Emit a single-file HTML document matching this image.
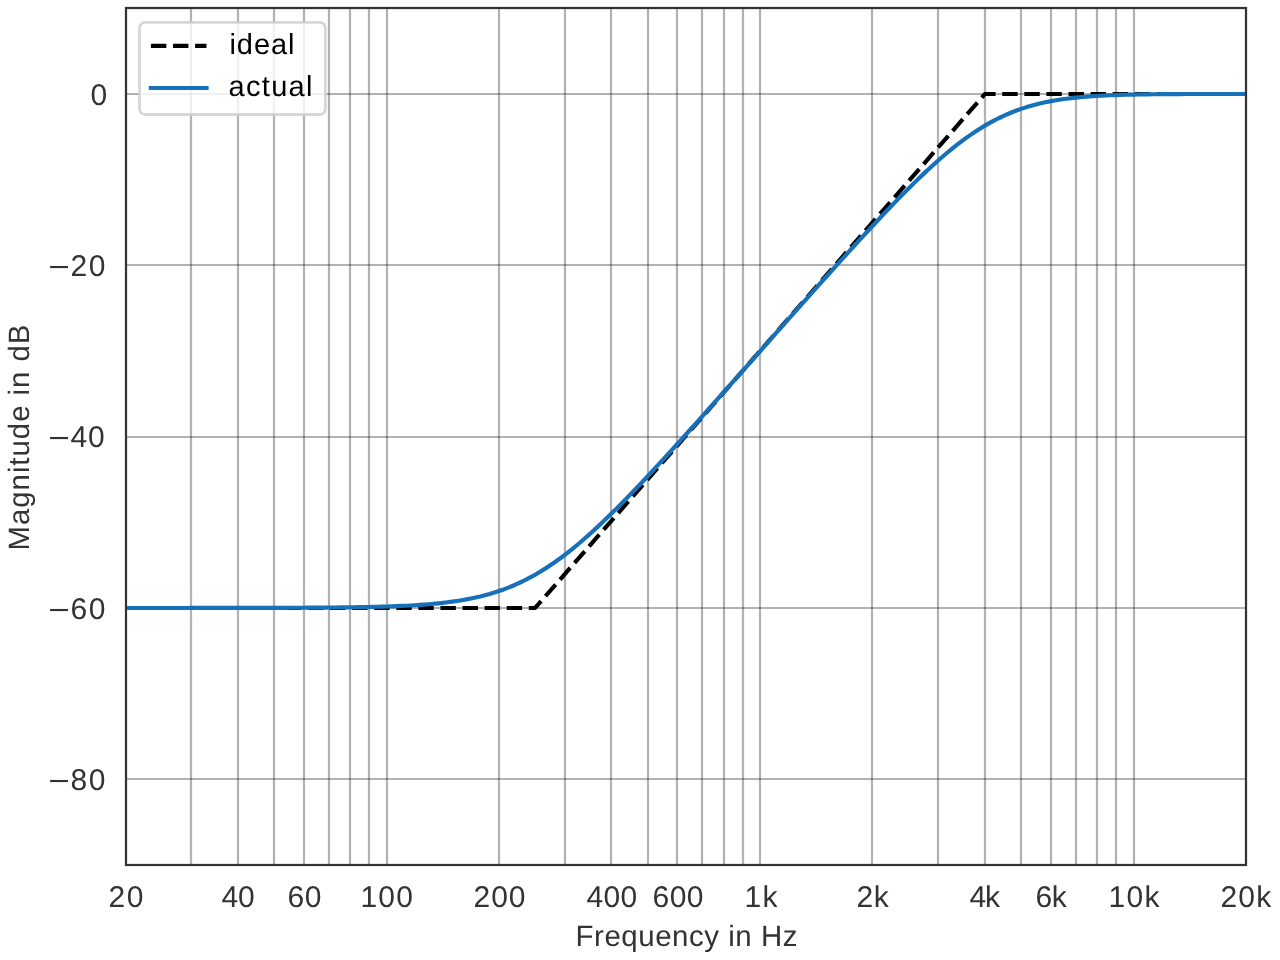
<!DOCTYPE html>
<html lang="en">
<head>
<meta charset="utf-8">
<title>Magnitude response: ideal vs actual</title>
<style>
html,body{margin:0;padding:0;background:#fff;}
body{width:1280px;height:960px;overflow:hidden;}
svg{display:block;}
text{font-family:"Liberation Sans",sans-serif;text-rendering:geometricPrecision;}
</style>
</head>
<body>
<svg width="1280" height="960" viewBox="0 0 1280 960" style="will-change:transform">
<rect x="0" y="0" width="1280" height="960" fill="#ffffff"/>
<g stroke="#000000" stroke-opacity="0.3" stroke-width="2.222" fill="none">
<line x1="191" y1="8" x2="191" y2="865"/>
<line x1="238" y1="8" x2="238" y2="865"/>
<line x1="274" y1="8" x2="274" y2="865"/>
<line x1="304" y1="8" x2="304" y2="865"/>
<line x1="329" y1="8" x2="329" y2="865"/>
<line x1="350" y1="8" x2="350" y2="865"/>
<line x1="369" y1="8" x2="369" y2="865"/>
<line x1="387" y1="8" x2="387" y2="865"/>
<line x1="499" y1="8" x2="499" y2="865"/>
<line x1="565" y1="8" x2="565" y2="865"/>
<line x1="611" y1="8" x2="611" y2="865"/>
<line x1="648" y1="8" x2="648" y2="865"/>
<line x1="677" y1="8" x2="677" y2="865"/>
<line x1="702" y1="8" x2="702" y2="865"/>
<line x1="724" y1="8" x2="724" y2="865"/>
<line x1="743" y1="8" x2="743" y2="865"/>
<line x1="760" y1="8" x2="760" y2="865"/>
<line x1="872" y1="8" x2="872" y2="865"/>
<line x1="938" y1="8" x2="938" y2="865"/>
<line x1="985" y1="8" x2="985" y2="865"/>
<line x1="1021" y1="8" x2="1021" y2="865"/>
<line x1="1051" y1="8" x2="1051" y2="865"/>
<line x1="1076" y1="8" x2="1076" y2="865"/>
<line x1="1097" y1="8" x2="1097" y2="865"/>
<line x1="1116" y1="8" x2="1116" y2="865"/>
<line x1="1134" y1="8" x2="1134" y2="865"/>
<line x1="126" y1="94" x2="1246" y2="94"/>
<line x1="126" y1="265" x2="1246" y2="265"/>
<line x1="126" y1="437" x2="1246" y2="437"/>
<line x1="126" y1="608" x2="1246" y2="608"/>
<line x1="126" y1="779" x2="1246" y2="779"/>
</g>
<clipPath id="ax"><rect x="126" y="8" width="1120" height="857"/></clipPath>
<g clip-path="url(#ax)" fill="none" stroke-width="4.167" stroke-linejoin="round">
<path d="M125.42 607.99 L535.15 607.99 L984.93 93.97 L1246.02 93.97" stroke="#000000" stroke-dasharray="15.417 6.667" stroke-dashoffset="16.23"/>
<path d="M119.42 607.98 L125.42 607.98 L130.09 607.98 L134.76 607.97 L139.43 607.97 L144.1 607.97 L148.77 607.97 L153.44 607.97 L158.1 607.97 L162.77 607.97 L167.44 607.96 L172.11 607.96 L176.78 607.96 L181.45 607.96 L186.12 607.96 L190.79 607.95 L195.46 607.95 L200.13 607.95 L204.8 607.94 L209.47 607.94 L214.13 607.94 L218.8 607.93 L223.47 607.93 L228.14 607.92 L232.81 607.92 L237.48 607.91 L242.15 607.9 L246.82 607.9 L251.49 607.89 L256.16 607.88 L260.83 607.87 L265.5 607.86 L270.16 607.85 L274.83 607.84 L279.5 607.82 L284.17 607.81 L288.84 607.79 L293.51 607.77 L298.18 607.75 L302.85 607.73 L307.52 607.7 L312.19 607.68 L316.86 607.65 L321.52 607.61 L326.19 607.58 L330.86 607.53 L335.53 607.49 L340.2 607.44 L344.87 607.38 L349.54 607.32 L354.21 607.25 L358.88 607.17 L363.55 607.09 L368.22 606.99 L372.89 606.88 L377.56 606.77 L382.22 606.64 L386.89 606.49 L391.56 606.33 L396.23 606.15 L400.9 605.95 L405.57 605.73 L410.24 605.49 L414.91 605.21 L419.58 604.91 L424.25 604.58 L428.92 604.21 L433.59 603.79 L438.25 603.34 L442.92 602.83 L447.59 602.28 L452.26 601.66 L456.93 600.98 L461.6 600.24 L466.27 599.42 L470.94 598.52 L475.61 597.53 L480.28 596.45 L484.95 595.26 L489.62 593.98 L494.28 592.58 L498.95 591.06 L503.62 589.42 L508.29 587.65 L512.96 585.74 L517.63 583.7 L522.3 581.51 L526.97 579.18 L531.64 576.7 L536.31 574.07 L540.98 571.3 L545.64 568.37 L550.31 565.3 L554.98 562.08 L559.65 558.72 L564.32 555.23 L568.99 551.6 L573.66 547.85 L578.33 543.98 L583 539.99 L587.67 535.89 L592.34 531.69 L597.01 527.39 L601.68 523 L606.34 518.53 L611.01 513.98 L615.68 509.37 L620.35 504.68 L625.02 499.94 L629.69 495.13 L634.36 490.28 L639.03 485.39 L643.7 480.45 L648.37 475.47 L653.04 470.46 L657.7 465.42 L662.37 460.35 L667.04 455.26 L671.71 450.14 L676.38 445 L681.05 439.84 L685.72 434.67 L690.39 429.49 L695.06 424.29 L699.73 419.08 L704.4 413.85 L709.07 408.62 L713.74 403.39 L718.4 398.14 L723.07 392.89 L727.74 387.63 L732.41 382.37 L737.08 377.11 L741.75 371.84 L746.42 366.57 L751.09 361.3 L755.76 356.03 L760.43 350.76 L765.1 345.49 L769.76 340.22 L774.43 334.95 L779.1 329.68 L783.77 324.42 L788.44 319.15 L793.11 313.9 L797.78 308.64 L802.45 303.39 L807.12 298.15 L811.79 292.92 L816.46 287.69 L821.13 282.47 L825.79 277.26 L830.46 272.06 L835.13 266.87 L839.8 261.7 L844.47 256.54 L849.14 251.39 L853.81 246.27 L858.48 241.17 L863.15 236.09 L867.82 231.03 L872.49 226 L877.16 221.01 L881.82 216.05 L886.49 211.12 L891.16 206.24 L895.83 201.4 L900.5 196.62 L905.17 191.89 L909.84 187.22 L914.51 182.61 L919.18 178.08 L923.85 173.63 L928.52 169.26 L933.19 164.98 L937.86 160.8 L942.52 156.73 L947.19 152.77 L951.86 148.92 L956.53 145.21 L961.2 141.62 L965.87 138.18 L970.54 134.87 L975.21 131.72 L979.88 128.71 L984.55 125.86 L989.22 123.17 L993.88 120.63 L998.55 118.25 L1003.22 116.03 L1007.89 113.95 L1012.56 112.03 L1017.23 110.25 L1021.9 108.61 L1026.57 107.11 L1031.24 105.73 L1035.91 104.47 L1040.58 103.33 L1045.25 102.29 L1049.91 101.35 L1054.58 100.51 L1059.25 99.74 L1063.92 99.06 L1068.59 98.45 L1073.26 97.9 L1077.93 97.42 L1082.6 96.98 L1087.27 96.6 L1091.94 96.26 L1096.61 95.96 L1101.28 95.69 L1105.94 95.46 L1110.61 95.25 L1115.28 95.07 L1119.95 94.91 L1124.62 94.78 L1129.29 94.66 L1133.96 94.55 L1138.63 94.46 L1143.3 94.38 L1147.97 94.31 L1152.64 94.26 L1157.31 94.21 L1161.98 94.17 L1166.64 94.13 L1171.31 94.1 L1175.98 94.07 L1180.65 94.05 L1185.32 94.03 L1189.99 94.02 L1194.66 94.01 L1199.33 94 L1204 93.99 L1208.67 93.98 L1213.34 93.98 L1218.01 93.97 L1222.67 93.97 L1227.34 93.97 L1232.01 93.97 L1236.68 93.97 L1241.35 93.97 L1246.02 93.97 L1252.02 93.97" stroke="#1670ba"/>
</g>
<rect x="126" y="8" width="1120" height="857" fill="none" stroke="#333333" stroke-width="2.222"/>
<rect x="139.5" y="22.4" width="185.85" height="92.1" rx="5.56" ry="5.56" fill="#ffffff" fill-opacity="0.8" stroke="#cccccc" stroke-opacity="0.8" stroke-width="2.778"/>
<line x1="150.93" y1="45.93" x2="206.49" y2="45.93" stroke="#000000" stroke-width="4.167" stroke-dasharray="15.417 6.667"/>
<line x1="150.93" y1="87.98" x2="206.49" y2="87.98" stroke="#1670ba" stroke-width="4.167" stroke-linecap="square"/>
<text font-size="30" fill="#333333" x="108.5" y="907" textLength="35" lengthAdjust="spacing">20</text>
<text font-size="30" fill="#333333" x="221.5" y="907" textLength="33.2" lengthAdjust="spacing">40</text>
<text font-size="30" fill="#333333" x="287.5" y="907" textLength="34" lengthAdjust="spacing">60</text>
<text font-size="30" fill="#333333" x="360.5" y="907" textLength="52.35" lengthAdjust="spacing">100</text>
<text font-size="30" fill="#333333" x="473.5" y="907" textLength="52" lengthAdjust="spacing">200</text>
<text font-size="30" fill="#333333" x="586.5" y="907" textLength="50.65" lengthAdjust="spacing">400</text>
<text font-size="30" fill="#333333" x="652.5" y="907" textLength="51" lengthAdjust="spacing">600</text>
<text font-size="30" fill="#333333" x="744.5" y="907" textLength="33" lengthAdjust="spacing">1k</text>
<text font-size="30" fill="#333333" x="856.5" y="907" textLength="32.2" lengthAdjust="spacing">2k</text>
<text font-size="30" fill="#333333" x="969.5" y="907" textLength="30.4" lengthAdjust="spacing">4k</text>
<text font-size="30" fill="#333333" x="1035.5" y="907" textLength="31.2" lengthAdjust="spacing">6k</text>
<text font-size="30" fill="#333333" x="1108.5" y="907" textLength="51" lengthAdjust="spacing">10k</text>
<text font-size="30" fill="#333333" x="1220.5" y="907" textLength="50.65" lengthAdjust="spacing">20k</text>
<text font-size="30" fill="#333333" x="90.5" y="105" textLength="17" lengthAdjust="spacing">0</text>
<text font-size="30" fill="#333333"><tspan x="48.2" y="277" textLength="21.6" lengthAdjust="spacingAndGlyphs">−</tspan><tspan x="70.5" y="276" textLength="35" lengthAdjust="spacing">20</tspan></text>
<text font-size="30" fill="#333333"><tspan x="48.2" y="448" textLength="21.6" lengthAdjust="spacingAndGlyphs">−</tspan><tspan x="70.5" y="447" textLength="34.2" lengthAdjust="spacing">40</tspan></text>
<text font-size="30" fill="#333333"><tspan x="48.2" y="620" textLength="21.6" lengthAdjust="spacingAndGlyphs">−</tspan><tspan x="70.5" y="619" textLength="35" lengthAdjust="spacing">60</tspan></text>
<text font-size="30" fill="#333333"><tspan x="48.2" y="791" textLength="21.6" lengthAdjust="spacingAndGlyphs">−</tspan><tspan x="70.5" y="790" textLength="35" lengthAdjust="spacing">80</tspan></text>
<text font-size="29.43" fill="#333333" x="575.5" y="946" textLength="221.96" lengthAdjust="spacing">Frequency in Hz</text>
<text font-size="29.43" fill="#333333" x="29" y="550.5" textLength="225.96" lengthAdjust="spacing" transform="rotate(-90 29 550.5)">Magnitude in dB</text>
<text font-size="29" fill="#000000" x="229.5" y="54" textLength="65" lengthAdjust="spacing">ideal</text>
<text font-size="29" fill="#000000" x="228.5" y="96" textLength="84" lengthAdjust="spacing">actual</text>
</svg>
</body>
</html>
